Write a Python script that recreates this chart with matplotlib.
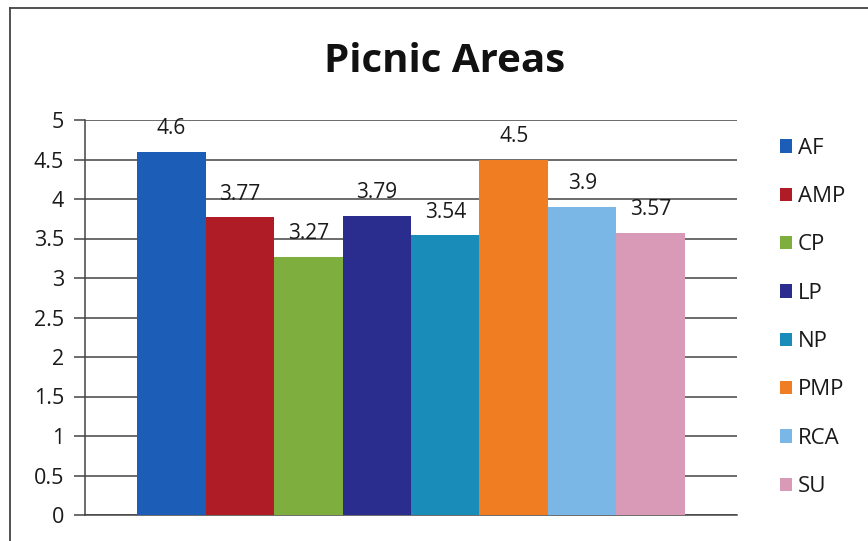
import matplotlib
matplotlib.use("Agg")
import matplotlib.pyplot as plt
from matplotlib.lines import Line2D

series = ["AF", "AMP", "CP", "LP", "NP", "PMP", "RCA", "SU"]
values = [4.6, 3.77, 3.27, 3.79, 3.54, 4.5, 3.9, 3.57]
labels = ["4.6", "3.77", "3.27", "3.79", "3.54", "4.5", "3.9", "3.57"]
colors = ["#1C5DB8", "#B01C25", "#7DAE3E", "#2A2C8E", "#1A8CBA", "#F07D22", "#7BB7E6", "#D99AB8"]
yticks = [0, 0.5, 1, 1.5, 2, 2.5, 3, 3.5, 4, 4.5, 5]
yticklabels = ["0", "0.5", "1", "1.5", "2", "2.5", "3", "3.5", "4", "4.5", "5"]

plt.rcParams['font.family'] = ['Open Sans', 'DejaVu Sans']

fig = plt.figure(figsize=(8.68, 5.41), dpi=100)
# frame: top and left edges
fig.add_artist(Line2D([10/868, 1.0], [1 - 8/541, 1 - 8/541], transform=fig.transFigure,
                      color="#444444", linewidth=1.3))
fig.add_artist(Line2D([10/868, 10/868], [0, 1 - 8/541], transform=fig.transFigure,
                      color="#444444", linewidth=1.3))

ax = fig.add_axes([85/868, 1 - 515/541, (737 - 85)/868, (515 - 120)/541])

n = len(series)
group = 0.84
w = group / n
for i, (s, v, c, lab) in enumerate(zip(series, values, colors, labels)):
    x = (i - (n - 1) / 2) * w
    b = ax.bar(x, v, width=w, color=c, label=s, zorder=3)
    ax.bar_label(b, labels=[lab], padding=9, fontsize=15, color="#1a1a1a")

ax.set_xlim(-0.5, 0.5)
ax.set_ylim(0, 5)
ax.set_yticks(yticks)
ax.set_yticklabels(yticklabels, fontsize=15.5, color="#1a1a1a")
ax.set_xticks([])
ax.yaxis.grid(True, color="#444444", linewidth=1.1, zorder=0)
for sp in ["top", "right"]:
    ax.spines[sp].set_visible(False)
ax.spines["left"].set_color("#444444")
ax.spines["bottom"].set_color("#444444")
ax.spines["left"].set_linewidth(1.1)
ax.spines["bottom"].set_linewidth(1.1)
ax.tick_params(axis="y", length=8, color="#444444", width=1.1, pad=7)

fig.text(445/868, 1 - 61/541, "Picnic Areas", fontsize=29, fontweight="bold",
         ha="center", va="center", color="#111111")

leg = ax.legend(loc="upper left", bbox_to_anchor=(1.066, 0.955), frameon=False,
                fontsize=16, handlelength=0.55, handleheight=0.55, handletextpad=0.25,
                labelspacing=1.23, borderaxespad=0, borderpad=0)
for t in leg.get_texts():
    t.set_color("#1a1a1a")

fig.savefig("out.png", dpi=100)
